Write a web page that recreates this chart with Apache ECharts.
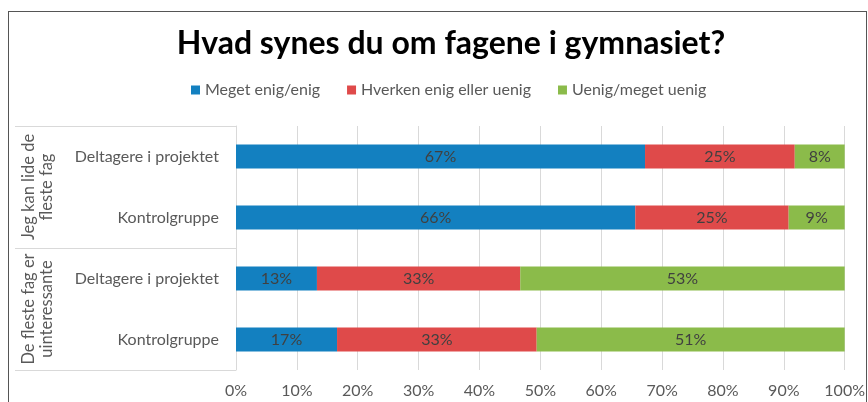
<!DOCTYPE html>
<html>
<head>
<meta charset="utf-8">
<script src="https://cdn.jsdelivr.net/npm/echarts@6/dist/echarts.min.js"></script>
<style>
  html, body { margin: 0; padding: 0; background: #fff; }
  #chart { width: 868px; height: 402px; }
  #frame { position: absolute; left: 8px; top: 11px; width: 857px; height: 400px;
           border-top: 1px solid #555; border-left: 1px solid #555; border-right: 1px solid #555; }
</style>
</head>
<body>
<div id="frame"></div>
<div id="chart"></div>
<script>
// data
var groups = ['Jeg kan lide de\nfleste fag', 'De fleste fag er\nuinteressante']
var categories = ['Deltagere i projektet', 'Kontrolgruppe', 'Deltagere i projektet', 'Kontrolgruppe']
var seriesNames = ['Meget enig/enig', 'Hverken enig eller uenig', 'Uenig/meget uenig']
var enig = [67.2, 65.6, 13.3, 16.6]
var hverken = [24.6, 25.2, 33.4, 32.8]
var uenig = [8.2, 9.2, 53.3, 50.6]
var colors = ['#1380c0', '#df4a4a', '#8bbb4a']

var font = 'Lato'
var chart = echarts.init(document.getElementById('chart'))

function bar (name, values, color) {
  return {
    name: name,
    type: 'bar',
    stack: 'total',
    barWidth: 24,
    data: values,
    itemStyle: { color: color },
    label: {
      show: true,
      position: 'inside',
      color: '#404040',
      fontFamily: font,
      fontSize: 16,
      formatter: function (p) { return Math.round(p.value) + '%' }
    }
  }
}

chart.setOption({
  animation: false,
  textStyle: { fontFamily: font },
  title: {
    text: 'Hvad synes du om fagene i gymnasiet?',
    left: 446,
    textAlign: 'center',
    top: 23,
    textStyle: { fontFamily: font, fontSize: 32, fontWeight: 'bold', color: '#000' }
  },
  legend: {
    top: 77,
    left: 186,
    itemWidth: 9,
    itemHeight: 9,
    itemGap: 27,
    icon: 'rect',
    textStyle: { fontFamily: font, fontSize: 16, color: '#595959' },
    data: seriesNames
  },
  grid: { left: 236, right: 21, top: 126, bottom: 32, containLabel: false },
  xAxis: {
    type: 'value',
    min: 0,
    max: 100,
    interval: 10,
    axisLine: { show: false },
    axisTick: { show: false },
    splitLine: { lineStyle: { color: '#d9d9d9', width: 1 } },
    axisLabel: { formatter: '{value}%', color: '#595959', fontFamily: font, fontSize: 16, margin: 13 }
  },
  yAxis: [
    {
      type: 'category',
      inverse: true,
      data: categories,
      axisLine: { show: true, lineStyle: { color: '#d9d9d9', width: 1 } },
      axisTick: { show: false },
      axisLabel: { interval: 0, color: '#595959', fontFamily: font, fontSize: 16, margin: 17 }
    },
    {
      type: 'category',
      inverse: true,
      position: 'left',
      data: groups,
      axisLine: { show: false },
      axisTick: { show: true, interval: 0, length: 221, lineStyle: { color: '#d9d9d9', width: 1 } },
      axisLabel: { interval: 0, hideOverlap: false, rotate: 90, color: '#595959', fontFamily: font, fontSize: 16.5, lineHeight: 18, margin: 180, align: 'center' }
    }
  ],
  series: [
    bar(seriesNames[0], enig, colors[0]),
    bar(seriesNames[1], hverken, colors[1]),
    bar(seriesNames[2], uenig, colors[2])
  ]
})
</script>
</body>
</html>
